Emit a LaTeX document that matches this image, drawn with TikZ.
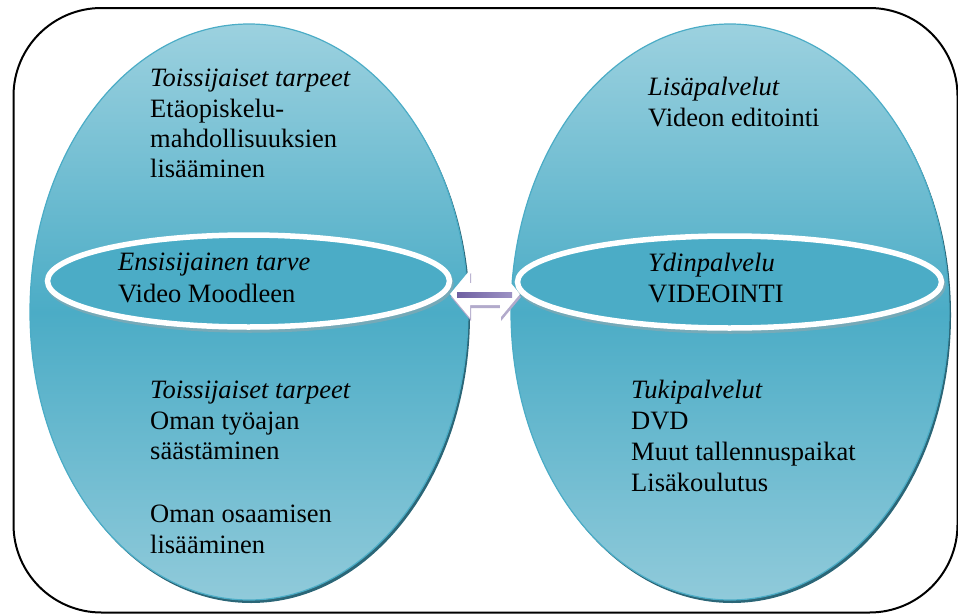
\documentclass[tikz,border=0pt]{standalone}
\usepackage{fontspec}
\setmainfont{Liberation Serif}
\definecolor{teal}{HTML}{4BACC6}
\definecolor{tealtop}{HTML}{9CD1DF}
\definecolor{tealbot}{HTML}{90CADA}
\definecolor{tealdark}{HTML}{2B6677}
\definecolor{arrowpurple}{HTML}{6F60A2}
\definecolor{arrowlight}{HTML}{9D92C4}
\definecolor{arrowshade}{HTML}{B2AACB}
\tikzset{
  txt/.style={anchor=base west, inner sep=0pt, font=\fontsize{26.5}{31}\selectfont, text=black},
  bigell/.style={draw=teal, line width=1.2pt, top color=tealtop, bottom color=tealbot, middle color=teal},
  bigshadow/.style={fill=tealdark},
  innerell/.style={draw=white, line width=5.5pt, fill=teal},
  innershadow/.style={draw=black!35, line width=5.5pt, opacity=0.45},
  frame/.style={draw=black, line width=2pt, rounded corners=88pt},
  dblarrow/.pic={
    \path[pic actions] (-35,0) -- (-15,-24) -- (-15,-11) -- (15,-11) -- (15,-24)
      -- (35,0) -- (15,24) -- (15,11) -- (-15,11) -- (-15,24) -- cycle;
  }
}
\begin{document}
\begin{tikzpicture}[x=1pt,y=-1pt]
\useasboundingbox (0,0) rectangle (958,613);
\draw[frame] (13.5,8) rectangle (957.5,612.5);

% big ellipses
\fill[bigshadow] (251,315) ellipse [x radius=219pt, y radius=288pt];
\path[bigell] (249,312) ellipse [x radius=219pt, y radius=288pt];
\fill[bigshadow] (732,315) ellipse [x radius=219pt, y radius=288pt];
\path[bigell] (730,312) ellipse [x radius=219pt, y radius=288pt];

% middle double arrow
\pic[fill=arrowshade] at (486,297) {dblarrow};
\pic[fill=white] at (485,294) {dblarrow};
\shade[left color=arrowpurple, right color=arrowlight] (457,292) rectangle (512,297);

% inner ellipses
\draw[innershadow] (250,284) ellipse [x radius=201pt, y radius=46pt];
\path[innerell] (248.5,281) ellipse [x radius=201pt, y radius=46pt];
\draw[innershadow] (731,285) ellipse [x radius=212pt, y radius=46pt];
\path[innerell] (729.5,282) ellipse [x radius=212pt, y radius=46pt];

% left top
\node[txt] (lt1) at (150,86) {\itshape Toissijaiset tarpeet};
\node[txt] (lt2) at (150,117) {Etäopiskelu-};
\node[txt] (lt3) at (150,147) {mahdollisuuksien};
\node[txt] (lt4) at (150,177) {lisääminen};
% left inner
\node[txt] (li1) at (118,270) {\itshape Ensisijainen tarve};
\node[txt] (li2) at (118,302) {Video Moodleen};
% left bottom
\node[txt] (lb1) at (150,398) {\itshape Toissijaiset tarpeet};
\node[txt] (lb2) at (150,429) {Oman työajan};
\node[txt] (lb3) at (150,459) {säästäminen};
\node[txt] (lb4) at (150,522) {Oman osaamisen};
\node[txt] (lb5) at (150,553) {lisääminen};
% right top
\node[txt] (rt1) at (648,95) {\itshape Lisäpalvelut};
\node[txt] (rt2) at (648,126) {Videon editointi};
% right inner
\node[txt] (ri1) at (648,271) {\itshape Ydinpalvelu};
\node[txt] (ri2) at (648,302) {VIDEOINTI};
% right bottom
\node[txt] (rb1) at (631,398) {\itshape Tukipalvelut};
\node[txt] (rb2) at (631,429) {DVD};
\node[txt] (rb3) at (631,460) {Muut tallennuspaikat};
\node[txt] (rb4) at (631,491) {Lisäkoulutus};
\end{tikzpicture}
\end{document}
